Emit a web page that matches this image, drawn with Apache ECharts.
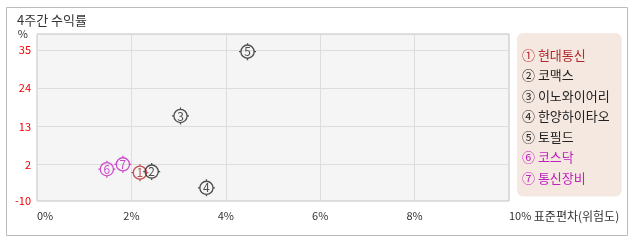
<!DOCTYPE html>
<html><head><meta charset="utf-8">
<script src="https://cdn.jsdelivr.net/npm/echarts@6/dist/echarts.min.js"></script>
<style>html,body{margin:0;padding:0;background:#fff}#c{width:638px;height:242px}</style>
</head><body><div id="c"></div>
<script>
const titleText = '4주간 수익률';
const names = ['현대통신', '코맥스', '이노와이어리', '한양하이타오', '토필드', '코스닥', '통신장비'];
const marks = ['①', '②', '③', '④', '⑤', '⑥', '⑦'];
const digits = ['1', '2', '3', '4', '5', '6', '7'];
const colors = ['#b3262b', '#222222', '#222222', '#222222', '#222222', '#c020c0', '#c020c0'];
const stdDev = [2.18, 2.43, 3.04, 3.59, 4.46, 1.48, 1.82];   // x, %
const returns = [-0.4, -0.1, 16.0, -4.8, 34.6, 0.6, 2.0];     // y, %
const xMin = 0, xMax = 10, xInterval = 2;
const xName = '표준편차(위험도)';
const yMin = -8.6, yMax = 39.7;
const yGridValues = [2, 13, 24, 35];
const yBottomLabel = '-10';
const yName = '%';

const font = '"Noto Sans CJK KR", "Noto Sans", sans-serif';
const markerPath = 'path://M2,9A7,7,0,1,1,16,9A7,7,0,1,1,2,9Z M9,0L9,2 M9,16L9,18 M0,9L2,9 M16,9L18,9';

const chart = echarts.init(document.getElementById('c'), null, {renderer: 'canvas'});
chart.setOption({
  animation: false,
  textStyle: {fontFamily: font},
  title: {text: titleText, left: 12, top: 9, textStyle: {fontSize: 13, fontWeight: 'normal', color: '#333', fontFamily: font}},
  graphic: [{type: 'rect', shape: {x: 6.5, y: 7.5, width: 621, height: 228}, style: {fill: 'none', stroke: '#bbbbbb', lineWidth: 1}, z: -10}],
  grid: {left: 37, top: 34, right: 129, bottom: 41, show: true, backgroundColor: '#f5f5f5', borderColor: '#c0c0c0', borderWidth: 1},
  xAxis: {
    type: 'value', min: xMin, max: xMax, interval: xInterval,
    axisLine: {show: false}, axisTick: {show: false},
    splitLine: {show: true, lineStyle: {color: '#dddddd', width: 1}},
    axisLabel: {
      margin: 9, fontSize: 11, color: '#333', fontFamily: font,
      alignMinLabel: 'left', alignMaxLabel: 'left',
      formatter: v => v === xMax ? '{n|' + v + '%} {t|' + xName + '}' : v + '%',
      rich: {n: {fontSize: 11, color: '#333', fontFamily: font}, t: {fontSize: 12, color: '#333', fontFamily: font}}
    }
  },
  yAxis: {
    type: 'value', min: yMin, max: yMax,
    name: yName, nameLocation: 'end', nameGap: 0,
    nameTextStyle: {align: 'right', verticalAlign: 'middle', padding: [0, 9, 0, 0], color: '#333', fontSize: 11, fontFamily: font},
    axisLine: {show: false},
    axisTick: {show: false, customValues: yGridValues},
    splitLine: {show: true, lineStyle: {color: '#dddddd', width: 1}},
    axisLabel: {
      customValues: [yMin].concat(yGridValues), margin: 6, fontSize: 11, fontFamily: font,
      formatter: v => v === yMin ? yBottomLabel : String(v),
      color: v => v === yMin ? '#3333ee' : '#ee0000'
    }
  },
  legend: {
    orient: 'vertical', left: 517, top: 33,
    backgroundColor: '#f5e8e0', borderRadius: 6,
    padding: [15, 12, 12, 0], itemGap: 7, itemWidth: 0, itemHeight: 14,
    icon: 'none', selectedMode: false,
    textStyle: {fontSize: 13, fontFamily: font},
    formatter: n => marks[names.indexOf(n)] + ' ' + n,
    data: names.map((n, i) => ({name: n, textStyle: {color: colors[i]}}))
  },
  series: names.map((n, i) => ({
    type: 'scatter', name: n,
    data: [[stdDev[i], returns[i]]],
    symbol: markerPath, symbolSize: 17,
    itemStyle: {color: 'rgba(0,0,0,0)', borderColor: colors[i], borderWidth: 1.3},
    label: {show: true, position: 'inside', formatter: () => digits[i], color: colors[i], fontSize: 12, fontFamily: font},
    emphasis: {disabled: true}
  }))
});
</script></body></html>
